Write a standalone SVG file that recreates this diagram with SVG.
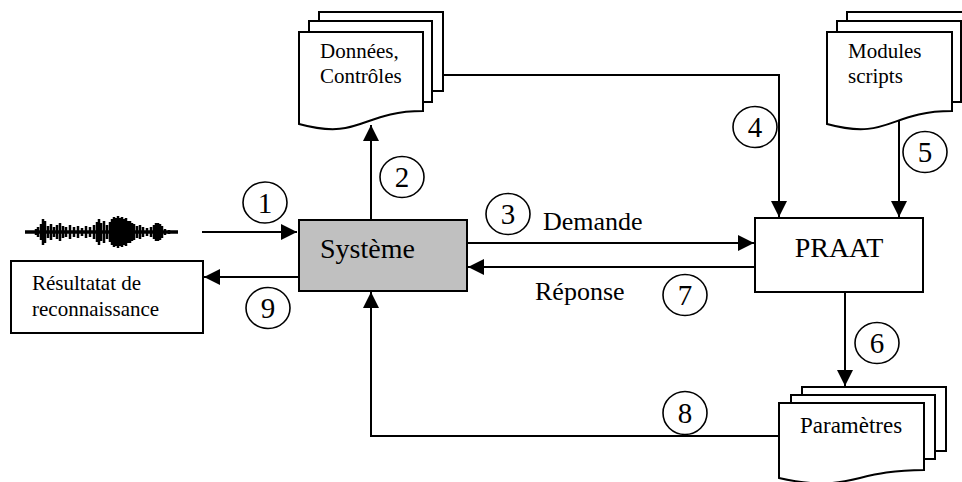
<svg xmlns="http://www.w3.org/2000/svg" width="962" height="482" viewBox="0 0 962 482">
<style>
.ln{fill:none;stroke:#000;stroke-width:2}
.box{fill:#fff;stroke:#000;stroke-width:2}
.sheet{fill:#fff;stroke:#000;stroke-width:2}
.circ{fill:#fff;stroke:#000;stroke-width:1.6}
.t{font-family:"Liberation Serif","Times New Roman",serif;fill:#000}
.big{font-size:28px}
.mid{font-size:26px}
.sm{font-size:21px}
.num{font-size:29px;text-anchor:middle}
</style>
<defs>
<marker id="ah" markerUnits="userSpaceOnUse" markerWidth="17" markerHeight="17" refX="16" refY="8" orient="auto">
<path d="M0,0 L16,8 L0,16 Z" fill="#000"/>
</marker>
<filter id="blur" x="-5%" y="-50%" width="110%" height="200%"><feGaussianBlur stdDeviation="0.7"/></filter>
</defs>
<rect width="962" height="482" fill="#fff"/>

<g id="connectors">
<path class="ln" d="M202,232 H297" marker-end="url(#ah)"/>
<path class="ln" d="M299,277 H204" marker-end="url(#ah)"/>
<path class="ln" d="M371,220 V125" marker-end="url(#ah)"/>
<path class="ln" d="M443,75 H779 V217" marker-end="url(#ah)"/>
<path class="ln" d="M899,118 V217" marker-end="url(#ah)"/>
<path class="ln" d="M467,243 H754" marker-end="url(#ah)"/>
<path class="ln" d="M755,267 H468" marker-end="url(#ah)"/>
<path class="ln" d="M845,292 V386" marker-end="url(#ah)"/>
<path class="ln" d="M779,436 H371 V292" marker-end="url(#ah)"/>
</g>

<g id="waveform" filter="url(#blur)" stroke="#000" fill="none">
<path d="M25,232 H178" stroke-width="3.5"/>
<path stroke-width="2.5" d="M36,229V235 M38,227V237 M41,224V240 M43,219V245 M45,221V243 M48,226V238 M51,224V240 M54,227V237 M57,225V239 M60,223V241 M63,226V238 M66,227V237 M70,225V239 M74,227V237 M78,226V238 M82,228V236 M86,226V238 M90,227V237 M94,225V239 M97,222V242 M99,219V245 M101,223V241 M104,221V243 M107,225V239 M110,222V242 M112,219V245 M114,217V247 M116,218V246 M118,216V248 M120,218V246 M122,217V247 M124,219V245 M126,218V246 M128,221V243 M130,221V243 M132,223V241 M134,224V240 M137,226V238 M140,225V239 M143,227V237 M147,228V236 M151,227V237 M154,225V239 M156,223V241 M158,223V241 M160,224V240 M162,226V238 M165,229V235 M169,230V234"/>
</g>

<g id="systeme">
<rect x="299" y="220" width="168" height="71" fill="#c0c0c0" stroke="#000" stroke-width="2"/>
<text class="t big" x="320" y="258">Système</text>
</g>

<g id="resultat">
<rect class="box" x="11" y="261" width="192" height="72"/>
<text class="t sm" x="32" y="290">Résultatat de</text>
<text class="t sm" x="32" y="316">reconnaissance</text>
</g>

<g id="praat">
<rect class="box" x="755" y="218" width="168" height="74"/>
<text class="t big" x="839" y="257" text-anchor="middle">PRAAT</text>
</g>

<g id="donnees">
<rect class="sheet" x="319" y="12" width="124" height="79"/>
<rect class="sheet" x="309" y="21" width="123" height="81"/>
<path class="sheet" d="M299,32 H423 V111 C361,111 361,141 299,124 Z"/>
<text class="t sm" x="320" y="58">Données,</text>
<text class="t sm" x="320" y="83">Contrôles</text>
</g>

<g id="modules">
<rect class="sheet" x="847" y="12" width="124" height="79"/>
<rect class="sheet" x="837" y="21" width="124" height="81"/>
<path class="sheet" d="M827,32 H952 V111 C889,111 889,141 827,124 Z"/>
<text class="t sm" x="848" y="58">Modules</text>
<text class="t sm" x="848" y="83">scripts</text>
</g>

<g id="parametres">
<rect class="sheet" x="802" y="387" width="144" height="64"/>
<rect class="sheet" x="791" y="395" width="144" height="64"/>
<path class="sheet" d="M779,403 H924 V470 C851,470 851,494 779,478 Z"/>
<text class="t" x="800" y="433" font-size="23">Paramètres</text>
</g>

<g id="labels">
<text class="t mid" x="543" y="230">Demande</text>
<text class="t mid" x="535" y="300">Réponse</text>
</g>

<g id="steps">
<g id="step1"><ellipse class="circ" cx="265" cy="202.5" rx="22" ry="20.5"/><text class="t num" x="265" y="213">1</text></g>
<g id="step2"><ellipse class="circ" cx="402" cy="177" rx="22" ry="20.5"/><text class="t num" x="402" y="187">2</text></g>
<g id="step3"><ellipse class="circ" cx="508" cy="214" rx="22" ry="20.5"/><text class="t num" x="508" y="224">3</text></g>
<g id="step4"><ellipse class="circ" cx="755" cy="127" rx="22" ry="20.5"/><text class="t num" x="755" y="137">4</text></g>
<g id="step5"><ellipse class="circ" cx="925" cy="152" rx="22" ry="20.5"/><text class="t num" x="925" y="162">5</text></g>
<g id="step6"><ellipse class="circ" cx="877" cy="343" rx="22" ry="20.5"/><text class="t num" x="877" y="353">6</text></g>
<g id="step7"><ellipse class="circ" cx="685" cy="295" rx="22" ry="20.5"/><text class="t num" x="685" y="305">7</text></g>
<g id="step8"><ellipse class="circ" cx="685" cy="413" rx="22" ry="21.5"/><text class="t num" x="685" y="423">8</text></g>
<g id="step9"><ellipse class="circ" cx="268" cy="308" rx="22" ry="20.5"/><text class="t num" x="268" y="318">9</text></g>
</g>
</svg>
